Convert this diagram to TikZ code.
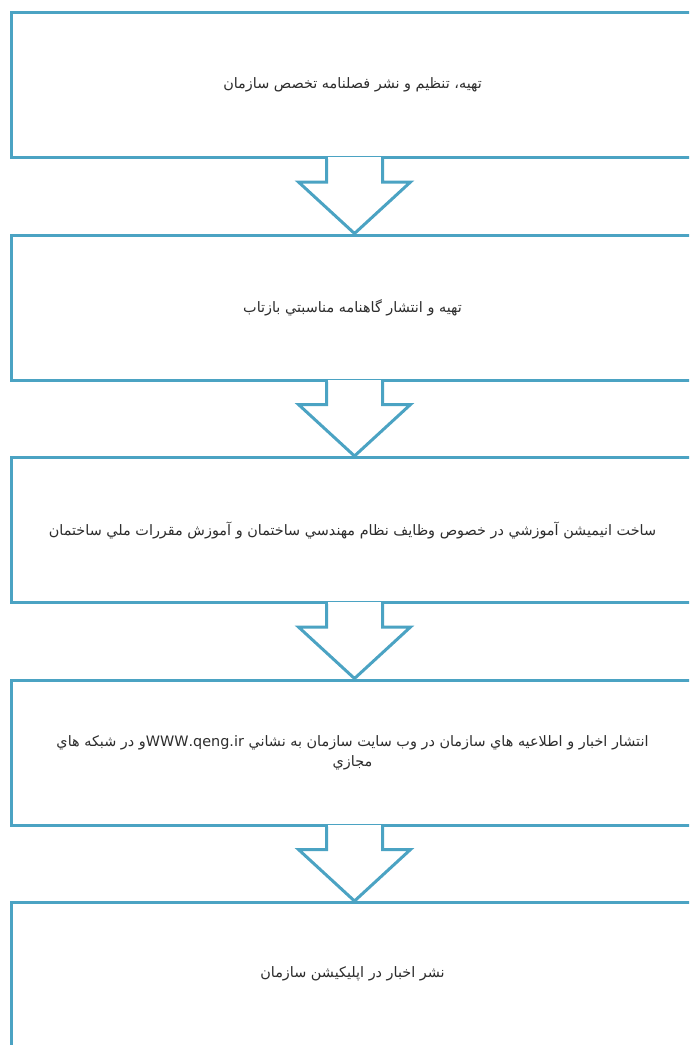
\documentclass[tikz,border=0pt]{standalone}
\usepackage{fontspec}
\usetikzlibrary{calc}
\TeXXeTstate=1
\newfontfamily\arabicfont[Script=Arabic]{DejaVu Sans}
\definecolor{edgeblue}{RGB}{75,163,195}
\definecolor{ink}{RGB}{45,45,45}
\begin{document}
\begin{tikzpicture}[x=1pt,y=-1pt,
  stepbox/.style={draw=edgeblue,line width=3pt,minimum width=682pt,minimum height=145pt,
    inner sep=0pt,anchor=north west,text=ink,align=center,
    font=\arabicfont\fontsize{14.4}{20}\selectfont},
  flowarrow/.style={draw=edgeblue,line width=3pt,line join=miter}]
\useasboundingbox (0,0) rectangle (689,1045);
\clip (0,0) rectangle (689,1045);
\fill[white] (0,0) rectangle (689,1045);

\node[stepbox] (b1) at (10,11) {\beginR تهيه، تنظيم و نشر فصلنامه تخصص سازمان\endR};
\node[stepbox] (b2) at (10,233.5) {\beginR تهيه و انتشار گاهنامه مناسبتي بازتاب\endR};
\node[stepbox] (b3) at (10,456) {\beginR ساخت انيميشن آموزشي در خصوص وظايف نظام مهندسي ساختمان و آموزش مقررات ملي ساختمان\endR};
\node[stepbox] (b4) at (10,678.5) {\beginR انتشار اخبار و اطلاعيه هاي سازمان در وب سايت سازمان به نشاني  \beginL WWW.qeng.ir\endL{}و در شبكه هاي\endR\\\beginR مجازي\endR};
\node[stepbox,minimum height=152pt] (b5) at (10,901) {};
\node[text=ink,font=\arabicfont\fontsize{14.4}{20}\selectfont] (t5) at ($(b5.north)+(0,72.5)$) {\beginR نشر اخبار در اپليكيشن سازمان\endR};

\foreach \a/\b in {b1/b2,b2/b3,b3/b4,b4/b5}{
  \fill[white] ($(\a.south)+(-24.5,-2)$) rectangle ($(\a.south)+(28.5,2)$);
  \draw[flowarrow] ($(\a.south)+(-26,0)$) -- ($(\a.south)+(-26,23)$) -- ($(\a.south)+(-54,23)$)
    -- ($(\b.north)+(2,0)$) -- ($(\a.south)+(58,23)$) -- ($(\a.south)+(30,23)$) -- ($(\a.south)+(30,0)$);
}
\end{tikzpicture}
\end{document}
